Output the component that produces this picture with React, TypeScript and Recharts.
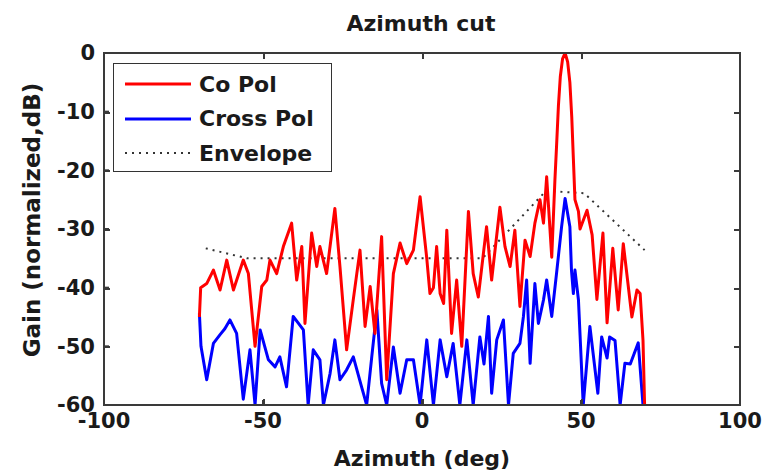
import React from 'react';
import { LineChart, Line, XAxis, YAxis } from 'recharts';

const coPolAz = [-70, -69.6, -67.7, -65.6, -63.5, -61.4, -59.3, -56.2, -54.6, -52.5, -50.4, -48.8, -47.8, -45.7, -43.6, -41, -39.4, -37.8, -36.8, -34.7, -33.1, -32.1, -30, -27.4, -25.8, -23.7, -21.6, -19.5, -17.9, -16.3, -14.8, -12.7, -11.1, -9, -6.9, -4.8, -2.7, -0.6, 1.5, 2.5, 3.6, 4.6, 5.7, 6.8, 7.8, 9.3, 10.9, 12.5, 14.6, 16.1, 17.7, 20.3, 21.9, 24.5, 26.1, 27.7, 29.2, 30.8, 32.4, 34, 35.5, 37.1, 38.2, 39.2, 40.8, 41.8, 42.3, 42.9, 43.5, 44.2, 45, 45.8, 46.5, 47.1, 47.6, 48.1, 49.2, 49.7, 51.9, 53.5, 55, 56.9, 58.2, 60, 61.7, 63.3, 66, 67.6, 68.6, 69.5, 70];
const coPolGain = [-45, -40, -39.3, -37, -40.4, -35.3, -40.4, -35.3, -37.6, -50, -39.8, -38.7, -35.3, -37.6, -33, -29, -38.7, -33, -46.1, -30.7, -36.4, -33, -37.6, -26.5, -36.4, -50.6, -42, -33.6, -46.6, -39.8, -47.8, -31.3, -55.7, -37.6, -32.4, -35.9, -33.6, -24.5, -35, -41, -40, -33, -41, -42.7, -30.2, -47.8, -38.7, -50, -27, -37.6, -41.6, -29.6, -38.7, -26.3, -33, -36.4, -30.2, -43.2, -31.9, -34.7, -29, -25, -29, -21.1, -34.8, -21.6, -16, -9, -4, -1, 0, -1.5, -5, -11, -18, -25, -27, -30, -26.8, -31, -42, -30.7, -46, -33.3, -43.8, -32.5, -45, -40.4, -41, -49, -60];

const crossPolAz = [-70, -69.5, -67.7, -65.6, -63.5, -62, -60.4, -58.3, -56.2, -54.1, -52.5, -50.9, -48.3, -46.2, -44.7, -42.6, -40.5, -37.3, -35.8, -34.2, -32.1, -31, -28.9, -27.4, -25.8, -23.7, -21.6, -19, -17.4, -15.8, -14.2, -12.7, -11.1, -9, -6.9, -4.8, -2.7, -0.6, 1.5, 3.6, 5.7, 7.8, 9.8, 11.9, 14.1, 16.1, 18.2, 19.5, 20.9, 21.9, 23.5, 25.6, 27.2, 28.7, 30.8, 31.9, 32.9, 34, 35.5, 36.6, 38.2, 39.2, 40.8, 42.3, 43.9, 45, 46.5, 47, 47.6, 48.1, 49.2, 50.7, 52.8, 55.3, 56.5, 58.2, 59, 60.7, 62.3, 63.8, 65.5, 68, 69.5];
const crossPolGain = [-44.4, -50, -55.7, -49.5, -48, -47, -45.5, -47.8, -59, -50.6, -60, -47.2, -52.3, -53.5, -51.8, -56.9, -44.9, -47.2, -60, -50.6, -52.3, -60, -54.6, -48.9, -55.7, -54, -51.8, -56.9, -60, -51.8, -43.8, -56.3, -60, -50.1, -58, -52.3, -52.3, -60, -48.9, -60, -48.9, -55.2, -49.5, -60, -48.9, -60, -48.4, -53, -44.9, -58, -48.9, -45.5, -60, -51.2, -49.5, -44.9, -38.7, -52.9, -39.3, -46.1, -42.1, -38.7, -44.9, -37.6, -29.6, -24.8, -29.6, -37, -41, -37, -42.1, -60, -46.6, -58, -48.4, -52, -48.4, -49, -60, -52.9, -53, -49.4, -60];

const envelopeAz = [-68, -55, 19, 39, 51, 70];
const envelopeGain = [-33.3, -35, -35, -23.5, -23.9, -33.6];

const xTicks = [-100, -50, 0, 50, 100];
const yTicks = [-60, -50, -40, -30, -20, -10, 0];

const toRows = (az: number[], gain: number[]) => az.map((a, i) => ({ az: a, gain: gain[i] }));
const coPolData = toRows(coPolAz, coPolGain);
const crossPolData = toRows(crossPolAz, crossPolGain);
const envelopeData = toRows(envelopeAz, envelopeGain);

const series = [
  { name: 'Co Pol', color: '#ff0000', dash: undefined as string | undefined, width: 3 },
  { name: 'Cross Pol', color: '#0000ff', dash: undefined as string | undefined, width: 3 },
  { name: 'Envelope', color: '#333333', dash: '2 5', width: 2 },
];

const FONT = '"DejaVu Sans", sans-serif';
const tickStyle = { fontFamily: FONT, fontWeight: 700, fontSize: 21, fill: '#1a1a1a' };
const axisColor = '#3a3a3a';
const axisLine = { stroke: axisColor, strokeWidth: 2 };

const W = 775;
const H = 472;
const M = { top: 53, right: 35, bottom: 0, left: 0 };
const Y_AXIS_W = 104;
const X_AXIS_H = 67;
const PLOT = { x: M.left + Y_AXIS_W, y: M.top, w: W - M.right - M.left - Y_AXIS_W, h: H - M.top - X_AXIS_H };

const xFrac = (t: number) => (t - xTicks[0]) / (xTicks[xTicks.length - 1] - xTicks[0]);
const yFrac = (t: number) => (t - yTicks[0]) / (yTicks[yTicks.length - 1] - yTicks[0]);

const FrameOverlay = () => (
  <div style={{ position: 'absolute', left: PLOT.x - 1, top: PLOT.y - 1, width: PLOT.w + 2, height: PLOT.h + 2, boxSizing: 'border-box', border: `2px solid ${axisColor}`, pointerEvents: 'none' }}>
    {xTicks.slice(1, -1).map((t) => (
      <React.Fragment key={'x' + t}>
        <div style={{ position: 'absolute', left: xFrac(t) * PLOT.w - 1, top: 0, width: 2, height: 5, background: axisColor }} />
        <div style={{ position: 'absolute', left: xFrac(t) * PLOT.w - 1, bottom: 0, width: 2, height: 5, background: axisColor }} />
      </React.Fragment>
    ))}
    {yTicks.slice(1, -1).map((t) => (
      <React.Fragment key={'y' + t}>
        <div style={{ position: 'absolute', left: 0, top: (1 - yFrac(t)) * PLOT.h - 1, width: 5, height: 2, background: axisColor }} />
        <div style={{ position: 'absolute', right: 0, top: (1 - yFrac(t)) * PLOT.h - 1, width: 5, height: 2, background: axisColor }} />
      </React.Fragment>
    ))}
  </div>
);

export default function App() {
  return (
    <div style={{ position: 'absolute', left: 0, top: 0, width: W, height: H, background: '#fff' }}>
      <LineChart width={W} height={H} margin={M}>
        <XAxis
          dataKey="az"
          type="number"
          domain={[-100, 100]}
          ticks={xTicks}
          allowDataOverflow
          height={X_AXIS_H}
          axisLine={axisLine}
          tickLine={axisLine}
          tickSize={-5}
          tickMargin={13}
          tick={tickStyle}
          label={() => (
            <g>
              <text x={421} y={23} textAnchor="middle" dominantBaseline="central" fontFamily={FONT} fontWeight={700} fontSize={22} fill="#1a1a1a">
                Azimuth cut
              </text>
              <text x={422} y={458} textAnchor="middle" dominantBaseline="central" fontFamily={FONT} fontWeight={700} fontSize={22} fill="#1a1a1a">
                Azimuth (deg)
              </text>
            </g>
          )}
        />
        <YAxis
          type="number"
          domain={[-60, 0]}
          ticks={yTicks}
          allowDataOverflow
          width={Y_AXIS_W}
          axisLine={axisLine}
          tickLine={axisLine}
          tickSize={-5}
          tickMargin={14}
          tick={tickStyle}
          label={() => (
            <text x={32} y={220} transform="rotate(-90 32 220)" textAnchor="middle" dominantBaseline="central" fontFamily={FONT} fontWeight={700} fontSize={23} fill="#1a1a1a">
              Gain (normalized,dB)
            </text>
          )}
        />
        <Line data={envelopeData} dataKey="gain" name="Envelope" type="linear" stroke={series[2].color} strokeWidth={series[2].width} strokeDasharray={series[2].dash} dot={false} isAnimationActive={false} />
        <Line data={crossPolData} dataKey="gain" name="Cross Pol" type="linear" stroke={series[1].color} strokeWidth={series[1].width} dot={false} isAnimationActive={false} strokeLinejoin="round" />
        <Line data={coPolData} dataKey="gain" name="Co Pol" type="linear" stroke={series[0].color} strokeWidth={series[0].width} dot={false} isAnimationActive={false} strokeLinejoin="round" />
      </LineChart>
      <FrameOverlay />
      <div
        style={{
          position: 'absolute',
          left: 113,
          top: 63,
          width: 217,
          height: 107,
          border: '1.5px solid #333',
          background: '#fff',
          boxSizing: 'content-box',
        }}
      >
        {series.map((s, i) => (
          <div key={s.name} style={{ position: 'absolute', left: 0, top: 4 + i * 34.5, height: 32, width: 217, display: 'flex', alignItems: 'center' }}>
            <svg width={85} height={32} style={{ flex: 'none' }}>
              <line x1={11} x2={77} y1={16} y2={16} stroke={s.color} strokeWidth={s.width} strokeDasharray={s.dash} />
            </svg>
            <span style={{ fontFamily: FONT, fontWeight: 700, fontSize: 22, color: '#1a1a1a', whiteSpace: 'nowrap' }}>{s.name}</span>
          </div>
        ))}
      </div>
    </div>
  );
}
